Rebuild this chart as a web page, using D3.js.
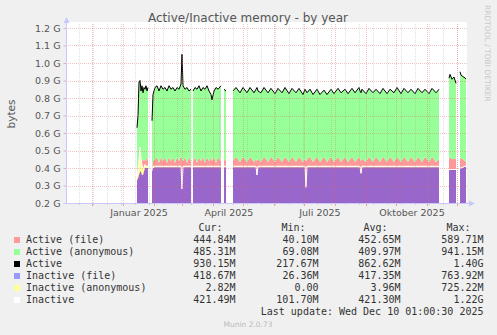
<!DOCTYPE html>
<html><head><meta charset="utf-8">
<script src="https://cdn.jsdelivr.net/npm/d3@7"></script>
<style>
body{margin:0;background:#f0f0f0}
svg{display:block}
</style></head>
<body><svg id="c" width="497" height="335"></svg>
<script>
// ---------- data (values in GiB) ----------
const graphStart = new Date(2024, 10, 5, 1, 0, 30);   // 400 days before last update
const graphEnd   = new Date(2025, 11, 10, 1, 0, 30);
const yTicks = [0.2,0.3,0.4,0.5,0.6,0.7,0.8,0.9,1.0,1.1,1.2];
const yTickLabels = ["0.2 G","0.3 G","0.4 G","0.5 G","0.6 G","0.7 G","0.8 G","0.9 G","1.0 G","1.1 G","1.2 G"];
const xLabelMonths = [new Date(2025,0,1), new Date(2025,3,1), new Date(2025,6,1), new Date(2025,9,1)];
const xLabels = ["Januar 2025","April 2025","Juli 2025","Oktober 2025"];

// day offsets from graph start; null values mark gaps (no data)
const days = [
 71,72,73,74,75,76,77,78,79,80,81,82, 84,
 86,87,89,91,93,95,97,99,101,103,105,107,109,111,113,115,116,117,119,121,123,125, 126,
 127,129,131,133,135,137,139,141,143,145,146,148,150,152,155, 157,
 158,160, 163,
 167,170,174,177,181,184,188,190,191,192,195,198,202,205,209,212,216,219,223,226,230,233,237,239,240,241,244,247,251,254,258,261,265,268,272,275,279,282,286,289,293,294,295,296,300,303,307,310,314,317,321,324,328,331,335,338,342,345,349,352,356,359,363,366,370,373, 378,
 383,384,386,388,390, 392,
 394,395,397,399,400];

const active = [
 .63,.70,.89,.90,.84,.87,.83,.86,.85,.87,.84,.86, null,
 .67,.82,.86,.87,.84,.87,.85,.86,.84,.87,.85,.86,.84,.86,.85,.88,1.05,.87,.85,.86,.84,.85, null,
 .84,.86,.85,.87,.84,.86,.85,.87,.84,.82,.79,.84,.86,.85,.87, null,
 .85,.84, null,
 .84,.86,.83,.86,.83,.86,.83,.85,.86,.84,.83,.86,.83,.855,.825,.855,.83,.86,.825,.855,.83,.855,.82,.85,.84,.83,.85,.82,.85,.82,.845,.82,.85,.825,.855,.83,.85,.825,.855,.83,.86,.84,.83,.85,.825,.855,.83,.85,.825,.855,.825,.85,.83,.86,.825,.855,.83,.85,.825,.855,.83,.85,.825,.855,.83,.85, null,
 .913,.935,.907,.92,.884, null,
 .95,.931,.922,.915,.908];

const activeFile = [
 .36,.42,.46,.42,.44,.45,.44,.45,.44,.45,.46,.44, null,
 .40,.44,.45,.46,.43,.46,.44,.46,.43,.46,.44,.46,.43,.46,.44,.47,.45,.44,.46,.43,.46,.44, null,
 .44,.46,.43,.46,.44,.46,.43,.46,.44,.46,.44,.46,.43,.46,.44, null,
 .45,.44, null,
 .44,.465,.435,.465,.435,.465,.435,.45,.44,.455,.435,.465,.435,.465,.435,.465,.435,.465,.435,.465,.435,.465,.435,.45,.44,.45,.465,.435,.465,.435,.465,.435,.465,.435,.465,.435,.465,.435,.465,.435,.465,.45,.44,.455,.435,.465,.435,.465,.435,.465,.435,.465,.435,.465,.435,.465,.435,.465,.435,.465,.435,.465,.435,.465,.435,.45, null,
 .455,.46,.45,.455,.45, null,
 .46,.455,.45,.44,.434];

const inactive = [
 .35,.38,.44,.52,.45,.42,.40,.40,.42,.41,.41,.41, null,
 .39,.41,.41,.41,.41,.41,.41,.41,.41,.41,.41,.41,.41,.41,.41,.41,.28,.41,.41,.41,.41,.41, null,
 .41,.41,.41,.41,.41,.41,.41,.41,.41,.41,.41,.41,.41,.41,.41, null,
 .41,.41, null,
 .41,.41,.41,.41,.41,.41,.41,.41,.36,.41,.41,.41,.41,.41,.41,.41,.41,.41,.41,.41,.41,.41,.41,.41,.29,.41,.41,.41,.41,.41,.41,.41,.41,.41,.41,.41,.41,.41,.41,.41,.41,.41,.37,.41,.41,.41,.41,.41,.41,.41,.41,.41,.41,.41,.41,.41,.41,.41,.41,.41,.41,.41,.41,.41,.41,.41, null,
 .392,.392,.392,.392,.392, null,
 .40,.40,.405,.41,.411];

const inactiveFile = [
 .33,.34,.36,.38,.38,.36,.36,.38,.40,.40,.40,.40, null,
 .38,.40,.405,.405,.405,.405,.405,.405,.405,.405,.405,.405,.405,.405,.405,.405,.27,.405,.405,.405,.405,.405, null,
 .405,.405,.405,.405,.405,.405,.405,.405,.405,.405,.405,.405,.405,.405,.405, null,
 .405,.405, null,
 .405,.405,.405,.405,.405,.405,.405,.405,.355,.405,.405,.405,.405,.405,.405,.405,.405,.405,.405,.405,.405,.405,.405,.405,.285,.405,.405,.405,.405,.405,.405,.405,.405,.405,.405,.405,.405,.405,.405,.405,.405,.405,.365,.405,.405,.405,.405,.405,.405,.405,.405,.405,.405,.405,.405,.405,.405,.405,.405,.405,.405,.405,.405,.405,.405,.405, null,
 .389,.389,.389,.389,.389, null,
 .398,.398,.403,.407,.409];

const legendNames = ["Active (file)","Active (anonymous)","Active","Inactive (file)","Inactive (anonymous)","Inactive"];
const legendColors = ["#ff9999","#99ff99","#000000","#9999ff","#ffff99","#ffffff"];
const legendCur = ["444.84M","485.31M","930.15M","418.67M","2.82M","421.49M"];
const legendMin = ["40.10M","69.08M","217.67M","26.36M","0.00","101.70M"];
const legendAvg = ["452.65M","409.97M","862.62M","417.35M","3.96M","421.30M"];
const legendMax = ["589.71M","941.15M","1.40G","763.92M","725.22M","1.22G"];

// ---------- layout ----------
const L = 66, R = 466, T = 28, B = 203;
const svg = d3.select("#c");
const x = d3.scaleTime().domain([graphStart, graphEnd]).range([L, R]);
const y = d3.scaleLinear().domain([0.2, 1.2]).range([B, T]);

const rows = days.map((d, i) => ({
  date: new Date(graphStart.getTime() + d * 864e5),
  act: active[i], af: activeFile[i], ina: inactive[i], inf: inactiveFile[i]
}));

svg.append("rect").attr("width",497).attr("height",335).attr("fill","#f0f0f0");
svg.append("rect").attr("x",L).attr("y",22).attr("width",R-L+1).attr("height",B-22).attr("fill","#fff");

const defs = svg.append("defs");
defs.append("clipPath").attr("id","clip").append("rect")
  .attr("x",L).attr("y",22).attr("width",R-L+1).attr("height",B-22);

const g = svg.append("g").attr("clip-path","url(#clip)");
const def = d => d.act != null;
const base = B + 5;

g.append("path").datum(rows).attr("fill","#ff9999")
  .attr("d", d3.area().defined(def).x(d=>x(d.date)).y0(base).y1(d=>y(d.af)));
g.append("path").datum(rows).attr("fill","#99ff99")
  .attr("d", d3.area().defined(def).x(d=>x(d.date)).y0(d=>y(d.af)).y1(d=>y(d.act)));
g.append("path").datum(rows).attr("fill","none").attr("stroke","#000").attr("stroke-width",1)
  .attr("d", d3.line().defined(def).x(d=>x(d.date)).y(d=>y(d.act)));
g.append("path").datum(rows).attr("fill","#9966cc")
  .attr("d", d3.area().defined(def).x(d=>x(d.date)).y0(base).y1(d=>y(d.inf)));
g.append("path").datum(rows).attr("fill","#ffff99")
  .attr("d", d3.area().defined(def).x(d=>x(d.date)).y0(d=>y(d.inf)).y1(d=>y(d.ina)));
g.append("path").datum(rows).attr("fill","none").attr("stroke","#fff").attr("stroke-width",1)
  .attr("d", d3.line().defined(def).x(d=>x(d.date)).y(d=>y(d.ina)));

// ---------- grid ----------
const grid = svg.append("g").attr("shape-rendering","crispEdges");
const minorDates = d3.timeDay.range(new Date(2024,10,18), graphEnd, 14);
const majorDates = d3.timeMonth.range(graphStart, graphEnd);
const minorCol = "rgba(140,140,140,0.28)";
const majorCol = "rgba(225,100,100,0.38)";
grid.selectAll(".mn").data(minorDates).join("line")
  .attr("x1",d=>Math.round(x(d))+0.5).attr("x2",d=>Math.round(x(d))+0.5).attr("y1",T-4).attr("y2",B)
  .attr("stroke",minorCol).attr("stroke-dasharray","1,1");
grid.selectAll(".mj").data(majorDates).join("line")
  .attr("x1",d=>Math.round(x(d))+0.5).attr("x2",d=>Math.round(x(d))+0.5).attr("y1",T-4).attr("y2",B)
  .attr("stroke",majorCol).attr("stroke-dasharray","1,1");
grid.selectAll(".hy").data(yTicks).join("line")
  .attr("x1",L).attr("x2",R+1).attr("y1",d=>Math.round(y(d))+0.5).attr("y2",d=>Math.round(y(d))+0.5)
  .attr("stroke",majorCol).attr("stroke-dasharray","1,1");

// x tick marks below axis
grid.selectAll(".tmn").data(minorDates).join("line")
  .attr("x1",d=>Math.round(x(d))+0.5).attr("x2",d=>Math.round(x(d))+0.5).attr("y1",B).attr("y2",B+2)
  .attr("stroke","#ccc");
grid.selectAll(".tmj").data(majorDates).join("line")
  .attr("x1",d=>Math.round(x(d))+0.5).attr("x2",d=>Math.round(x(d))+0.5).attr("y1",B).attr("y2",B+3)
  .attr("stroke","#e8a0a0");

// ---------- axes ----------
const axisCol = "#c8c8ff";
const yAxis = d3.axisLeft(y).tickValues(yTicks).tickFormat((d,i)=>yTickLabels[i]).tickSize(3).tickPadding(3);
const ya = svg.append("g").attr("transform",`translate(${L+0.5},0)`).call(yAxis);
ya.select(".domain").remove();
ya.selectAll(".tick line").attr("stroke","#e8b0b0");
ya.selectAll(".tick text").attr("fill","#555").attr("font-family","DejaVu Sans").attr("font-size","9.5px");

svg.append("line").attr("x1",L+0.5).attr("x2",L+0.5).attr("y1",B+1).attr("y2",22).attr("stroke",axisCol);
svg.append("line").attr("x1",L-2).attr("x2",R+4).attr("y1",B+0.5).attr("y2",B+0.5).attr("stroke",axisCol);
svg.append("path").attr("d",`M${L-2.5},23 L${L+3.5},23 L${L+0.5},17 Z`).attr("fill",axisCol);
svg.append("path").attr("d",`M${R+3},${B-2.5} L${R+3},${B+3.5} L${R+9},${B+0.5} Z`).attr("fill",axisCol);

const xAxis = d3.axisBottom(x).tickValues(xLabelMonths.map(d=>d3.timeHour.offset(d, 372)))
  .tickFormat((d,i)=>xLabels[i]).tickSize(0).tickPadding(6);
const xa = svg.append("g").attr("transform",`translate(0,${B})`).call(xAxis);
xa.select(".domain").remove();
xa.selectAll(".tick text").attr("fill","#555").attr("font-family","DejaVu Sans").attr("font-size","9.5px");

// ---------- titles ----------
svg.append("text").attr("x",248).attr("y",22).attr("text-anchor","middle")
  .attr("font-family","DejaVu Sans").attr("font-size","12px").attr("fill","#555")
  .text("Active/Inactive memory - by year");
svg.append("text").attr("transform","translate(15,114) rotate(-90)").attr("text-anchor","middle")
  .attr("font-family","DejaVu Sans").attr("font-size","10.5px").attr("fill","#555").text("bytes");
svg.append("text").attr("transform","translate(485,5) rotate(90)").attr("text-anchor","start")
  .attr("font-family","DejaVu Sans").attr("font-size","7.5px").attr("fill","#c8c8c8")
  .text("RRDTOOL / TOBI OETIKER");

// ---------- legend ----------
const mono = "DejaVu Sans Mono";
const lg = svg.append("g").attr("font-family",mono).attr("font-size","10px").attr("fill","#333");
const colRight = [235.5, 318.5, 400.5, 483.5];
["Cur:","Min:","Avg:","Max:"].forEach((h,i)=>{
  lg.append("text").attr("x",colRight[i]-13).attr("y",231).attr("text-anchor","end").text(h);
});
legendNames.forEach((n,i)=>{
  const yy = 243 + i*12;
  lg.append("rect").attr("x",14).attr("y",yy-6).attr("width",6).attr("height",6).attr("fill",legendColors[i]);
  lg.append("text").attr("x",26).attr("y",yy).text(n);
  [legendCur[i],legendMin[i],legendAvg[i],legendMax[i]].forEach((v,j)=>{
    lg.append("text").attr("x",colRight[j]).attr("y",yy).attr("text-anchor","end").text(v);
  });
});
lg.append("text").attr("x",483.5).attr("y",315).attr("text-anchor","end").text("Last update: Wed Dec 10 01:00:30 2025");
svg.append("text").attr("x",248).attr("y",327).attr("text-anchor","middle")
  .attr("font-family","DejaVu Sans").attr("font-size","7.5px").attr("fill","#bbb").text("Munin 2.0.73");
</script></body></html>
